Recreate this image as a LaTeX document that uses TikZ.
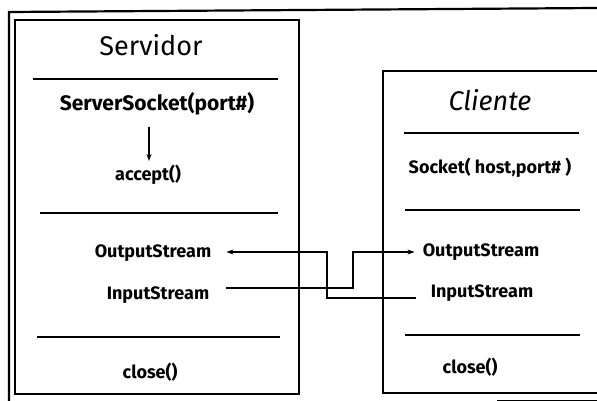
\documentclass[tikz,border=0pt]{standalone}
\usepackage{fontspec}
\setmainfont{Fira Sans}
\usetikzlibrary{arrows.meta,calc}
\begin{document}
\begin{tikzpicture}[x=1pt,y=-1pt,
  box/.style={line width=2.2pt},
  sep/.style={line width=1.8pt},
  title/.style={inner sep=0pt,font=\fontsize{27}{30}\selectfont},
  lbl/.style={inner sep=0pt,font=\fontsize{18}{21}\selectfont\bfseries},
  wire/.style={line width=1.1pt},
  tip/.style={-{Stealth[length=7pt,width=5pt]}}]
\path[use as bounding box, clip] (0,0) rectangle (597,401);
% outer frame
\draw[box] (9,401) -- (9,12) -- (597,8);
\draw[line width=1pt] (497,400) -- (597,400);
% Servidor
\draw[box] (15,20) rectangle (299,394);
\node[title] (srv) at (151,45) {Servidor};
\draw[sep] (33,79) -- (278,79);
\node[lbl,font=\fontsize{21}{24}\selectfont\bfseries] (ss) at (157,104) {ServerSocket(port\#)};
\node[lbl] (acc) at (148,175) {accept()};
\draw[line width=1.6pt,tip] (ss.south -| acc.north) ++(1,11) -- ($(acc.north)+(1,-4)$);
\draw[sep] (40,213) -- (278,213);
\node[lbl] (sout) at (153,253) {OutputStream};
\node[lbl] (sin) at (158,295) {InputStream};
\draw[sep] (37,337) -- (280,337);
\node[lbl] (sclose) at (150,372) {close()};
% Cliente
\draw[box] (383,71) rectangle (620,393);
\node[title,font=\fontsize{27}{30}\selectfont\itshape] (cli) at (490,100) {Cliente};
\draw[sep] (404,133) -- (579,133);
\node[lbl] (sock) at (490,168) {Socket( host,port\# )};
\draw[sep] (405,210) -- (580,210);
\node[lbl] (cout) at (481,252) {OutputStream};
\node[lbl] (cin) at (482,293) {InputStream};
\draw[sep] (405,335) -- (580,335);
\node[lbl] (cclose) at (470,367) {close()};
% connectors
\coordinate (w1s) at ($(sin.east)+(17,-7)$);
\coordinate (w1e) at ($(cout.west)+(-8,0)$);
\draw[wire,tip] (w1s) -- (353,288) |- (w1e);
\coordinate (w2s) at ($(cin.west)+(-15,5)$);
\coordinate (w2e) at ($(sout.east)+(15,-1)$);
\draw[wire,tip] (w2s) -- (327,298) |- (w2e);
\end{tikzpicture}
\end{document}
